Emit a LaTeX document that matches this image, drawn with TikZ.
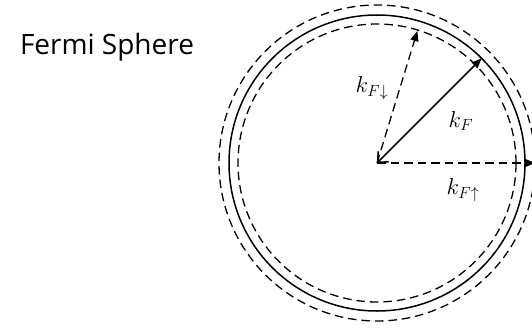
\RequirePackage{fix-cm}
\documentclass[tikz,border=0pt]{standalone}
\usepackage{amsmath, amssymb}
\usepackage{fontspec}
\usepackage{tikz}
\usetikzlibrary{arrows.meta}
\newfontfamily\handfont{Open Sans}
\newcommand{\kbig}{\fontsize{23}{27}\selectfont}

\begin{document}
\begin{tikzpicture}[x=1pt, y=1pt,
        sphere/.style = {draw, line width=1.5pt},
        shell/.style = {draw, line width=1.3pt, dash pattern=on 8.5pt off 5pt},
        tip/.style = {-{Triangle[length=10pt, width=8pt]}}]
        \useasboundingbox (0,0) rectangle (532,330);
        \coordinate (O) at (377,167);
        \path (O) ++(45:148) coordinate (kf);
        \path (O) ++(73:138) coordinate (kdn);
        \path (O) ++(0:158) coordinate (kup);

        \draw[shell] (O) circle (139);
        \draw[sphere] (O) circle (148);
        \draw[shell] (O) circle (158);

        \draw[sphere, {Straight Barb[length=8pt, width=15pt]}-{Triangle[length=10pt, width=8pt]}] (O) -- (kf);
        \draw[shell, tip] (O) -- (kdn);
        \draw[shell, tip] (O) -- (kup);

        \node (lf) at (461,209) {\kbig$k_F$};
        \node (ldn) at (372,242) {\kbig$k_{F\downarrow}$};
        \node (lup) at (463,140) {\kbig$k_{F\uparrow}$};
        \node[font=\handfont\fontsize{28}{32}\selectfont] (title) at (107,283) {Fermi Sphere};
    \end{tikzpicture}
\end{document}
